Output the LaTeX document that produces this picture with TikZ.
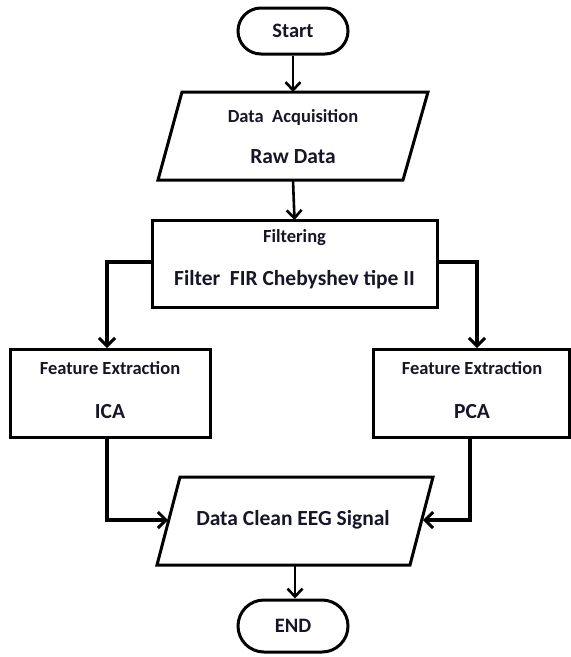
\documentclass[tikz,border=0pt]{standalone}
\usepackage{fontspec}
\setmainfont{Carlito}
\usetikzlibrary{arrows.meta,shapes.misc}
\definecolor{txt}{RGB}{22,22,40}
\begin{document}
\begin{tikzpicture}[x=1pt,y=-1pt,
  outline/.style={draw=black, line width=3pt, line join=miter},
  term/.style={outline, rounded rectangle, minimum width=110pt, inner sep=0pt, text=txt, font=\fontsize{20.5}{22}\selectfont\bfseries},
  boxnode/.style={outline, rectangle, inner sep=0pt},
  conn/.style={line width=2.6pt, -{Straight Barb[length=8pt,width=15pt,line width=2.6pt]}},
  bconn/.style={line width=3.2pt, -{Straight Barb[length=8pt,width=16pt,line width=3pt]}},
  small/.style={text=txt, inner sep=0pt, font=\fontsize{18.5}{20}\selectfont\bfseries},
  big/.style={text=txt, inner sep=0pt, font=\fontsize{21.5}{24}\selectfont\bfseries}]
\useasboundingbox (0,0) rectangle (571,657);

% Start
\node[term, minimum height=46pt] (start) at (293,31) {Start};

% Data acquisition (parallelogram)
\coordinate (datop) at (293,92);
\coordinate (dabot) at (293,180);
\draw[outline] (182,92) -- (428,92) -- (403,180) -- (158,180) -- cycle;
\node[small] (datitle) at (293,117) {Data\ \ Acquisition};
\node[big] (daraw) at (293,157) {Raw Data};

% Filtering
\node[boxnode, minimum width=285pt, minimum height=87pt] (filt) at (294.5,263.5) {};
\node[small] (filttitle) at (294.5,238) {Filtering};
\node[big] (filtmain) at (294.5,280) {Filter\ \ FIR Chebyshev tipe II};

% Feature extraction boxes
\node[boxnode, minimum width=200pt, minimum height=88pt] (fe1) at (110,393.5) {};
\node[small] (fe1t) at (110,368) {Feature Extraction};
\node[big] (fe1m) at (110,412) {ICA};
\node[boxnode, minimum width=196pt, minimum height=88pt] (fe2) at (471,393.5) {};
\node[small] (fe2t) at (472,368) {Feature Extraction};
\node[big] (fe2m) at (472,412) {PCA};

% Data clean (parallelogram)
\draw[outline] (180,477) -- (433,477) -- (410,565) -- (157,565) -- cycle;
\coordinate (dcL) at (168,520);
\coordinate (dcR) at (423,520);
\coordinate (dcbot) at (295,565);
\node[big] (dc) at (293,520) {Data Clean EEG Signal};

% END
\node[term, minimum height=52pt] (end) at (293,626) {END};

% connectors
\draw[conn] (start.south) -- (datop);
\draw[conn] (dabot) -- (filt.north |- 0,220);
\draw[bconn] (filt.west |- 0,262) -| ([xshift=-3pt]fe1.north);
\draw[bconn] (filt.east |- 0,262) -| ([xshift=6pt]fe2.north);
\draw[bconn] ([xshift=-3pt]fe1.south) |- (dcL);
\draw[bconn] ([xshift=-1pt]fe2.south) |- (dcR);
\draw[conn] (dcbot) -- (dcbot |- end.north);
\end{tikzpicture}
\end{document}
